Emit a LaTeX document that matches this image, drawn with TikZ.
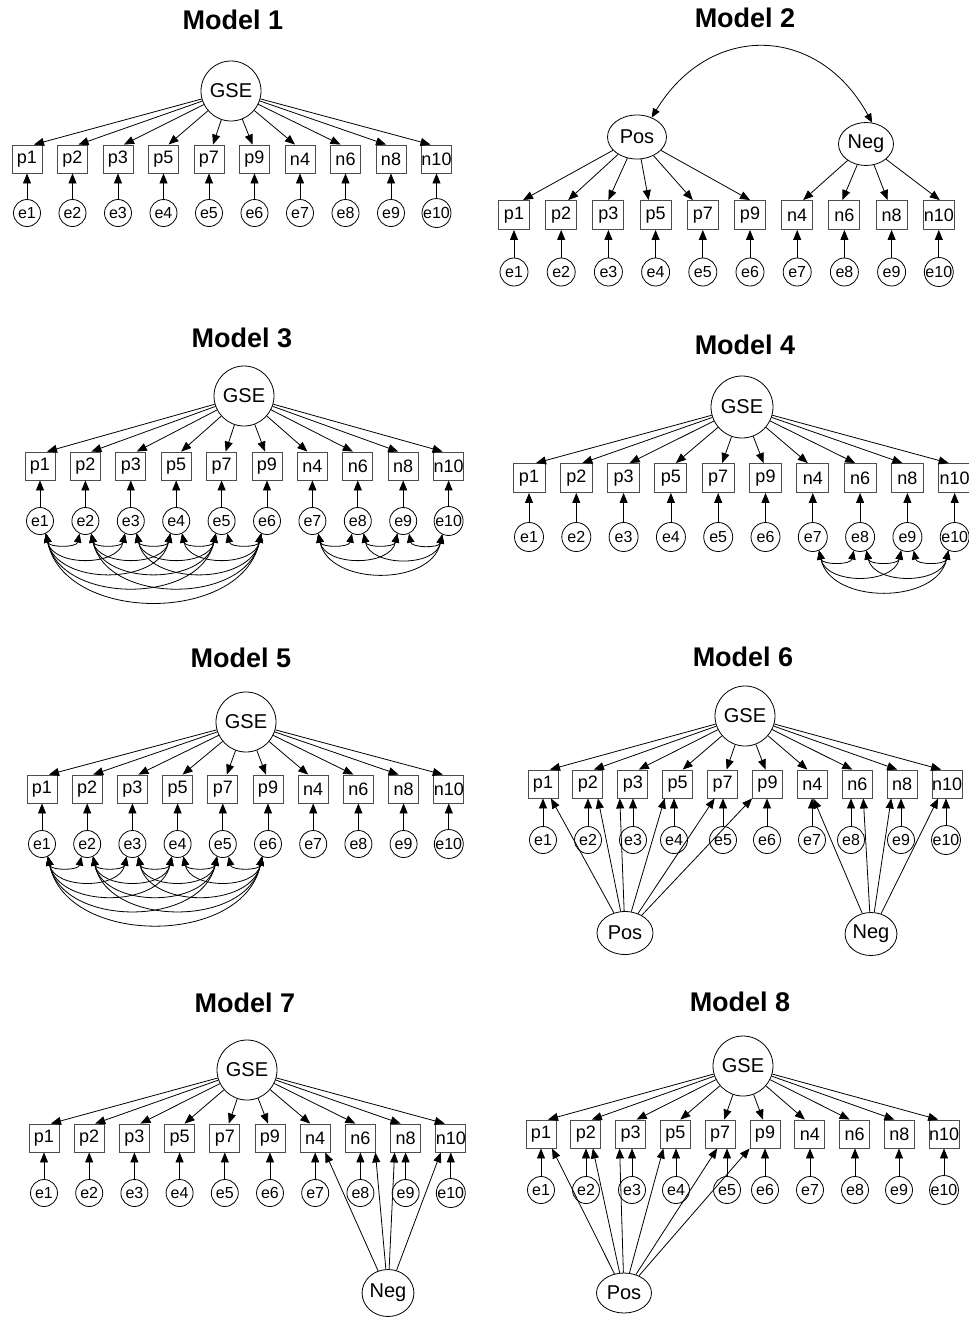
\documentclass[tikz,border=0pt]{standalone}
\usepackage{fontspec}
\setmainfont{Liberation Sans}
\usetikzlibrary{arrows.meta,shapes.geometric}

% item labels in the order they appear in every row
\newcommand{\itemlabel}[1]{\ifcase#1\or p1\or p2\or p3\or p5\or p7\or p9\or n4\or n6\or n8\or n10\fi}

% sizes of indicator boxes and error circles (changed per model)
\def\boxw{30pt}\def\boxh{28pt}\def\errd{27pt}

\tikzset{
  ind/.style={draw=black!70, line width=0.9pt, rectangle, minimum width=\boxw,
    minimum height=\boxh, inner sep=0pt, font=\fontsize{18}{18}\selectfont},
  err/.style={draw, line width=0.8pt, circle, minimum size=\errd, inner sep=0pt,
    font=\fontsize{16}{16}\selectfont},
  lat/.style={draw, line width=0.8pt, circle, minimum size=60pt, inner sep=0pt,
    font=\fontsize{20}{20}\selectfont},
  fac/.style={draw, line width=0.8pt, ellipse, inner sep=0pt,
    font=\fontsize{20}{20}\selectfont},
  ttl/.style={font=\fontsize{27}{27}\selectfont\bfseries},
  arr/.style={line width=0.8pt, -{Triangle[length=10pt,width=8pt]}},
  cov/.style={line width=0.8pt,
    {Triangle[length=9pt,width=7.5pt]}-{Triangle[length=9pt,width=7.5pt]}},
}

% row of indicators with their error terms: prefix, box y, error y, list of boxx/errx
\newcommand{\indrow}[4]{%
  \foreach \bx/\ex [count=\i] in {#4} {
    \node[ind] (#1b\i) at (\bx,#2) {\itemlabel{\i}};
    \node[err] (#1e\i) at (\ex,#3) {e\i};
    \draw[arr] (#1e\i.north) -- (#1e\i.north |- #1b\i.south);
  }%
}

% loadings from the general factor
\newcommand{\gsearrows}[1]{%
  \foreach \dx [count=\i] in {7,6,6,5,4,-2,-5,-5,-5,-6}
    \draw[arr] (#1g) -- ([xshift=\dx pt]#1b\i.north);%
}

% all pairwise error covariances among e#2 ... e#3
\newcommand{\covset}[3]{%
  \foreach \a in {#2,...,#3} {
    \foreach \b in {#2,...,#3} {
      \ifnum\b>\a\relax
        \draw[cov] (#1e\a.-65) to[bend right=78, looseness=1.1] (#1e\b.-115);
      \fi
    }
  }%
}

\begin{document}
\begin{tikzpicture}[x=1pt,y=-1pt]
\path[use as bounding box, fill=white] (0,0) rectangle (969,1318);

% ---------------- Model 1 ----------------
\node[ttl] (t1) at (233,20) {Model 1};
\node[lat] (m1g) at (231,91) {GSE};
\indrow{m1}{159}{213}{27/27,72.5/72.5,118/118,163.5/163.5,209/209,254.5/254.5,300/300,345.5/345.5,391/391,436.5/436.5}
\gsearrows{m1}

% ---------------- Model 2 ----------------
\def\boxw{31pt}\def\boxh{29pt}\def\errd{28pt}
\node[ttl] (t2) at (745,18) {Model 2};
\node[fac, minimum width=59pt, minimum height=44pt] (m2pos) at (637,137) {Pos};
\node[fac, minimum width=55pt, minimum height=43pt] (m2neg) at (866,144) {Neg};
\indrow{m2}{215}{272}{514/514,561.2/561.2,608.4/608.4,655.6/655.6,702.8/702.8,750/750,797.2/797.2,844.4/844.4,891.6/891.6,938.8/938.8}
\foreach \dx [count=\i] in {9,7,0,-7,-10,0}
  \draw[arr] (m2pos) -- ([xshift=\dx pt]m2b\i.north);
\foreach \dx [count=\j from 7] in {6,-2,-4,1}
  \draw[arr] (m2neg) -- ([xshift=\dx pt]m2b\j.north);
\draw[cov] (m2pos.53) to[bend left=60, looseness=1.3] (m2neg.74);
\def\boxw{30pt}\def\boxh{28pt}\def\errd{27pt}

% ---------------- Model 3 ----------------
\node[ttl] (t3) at (242,338) {Model 3};
\node[lat] (m3g) at (244,396) {GSE};
\indrow{m3}{466}{521}{40/40,85.4/85.4,130.8/130.8,176.2/176.2,221.6/221.6,267/267,312.4/312.4,357.8/357.8,403.2/403.2,448.6/448.6}
\gsearrows{m3}
\covset{m3}{1}{6}
\covset{m3}{7}{10}

% ---------------- Model 4 ----------------
\def\boxw{32pt}\def\boxh{29pt}\def\errd{29pt}
\node[ttl] (t4) at (745,345) {Model 4};
\node[lat, minimum size=62pt] (m4g) at (742,407) {GSE};
\indrow{m4}{478}{537}{529/529,576.3/576.3,623.6/623.6,670.9/670.9,718.2/718.2,765.5/765.5,812.8/812.8,860.1/860.1,907.4/907.4,954.7/954.7}
\gsearrows{m4}
\covset{m4}{7}{10}
\def\boxw{30pt}\def\boxh{28pt}\def\errd{27pt}

% ---------------- Model 5 ----------------
\node[ttl] (t5) at (241,658) {Model 5};
\node[lat] (m5g) at (246,722) {GSE};
\indrow{m5}{789}{844}{42/42,87.2/87.2,132.4/132.4,177.6/177.6,222.8/222.8,268/268,313.2/313.2,358.4/358.4,403.6/403.6,448.8/448.8}
\gsearrows{m5}
\covset{m5}{1}{6}

% ---------------- Model 6 ----------------
\node[ttl] (t6) at (743,657) {Model 6};
\node[lat] (m6g) at (745,716) {GSE};
\indrow{m6}{784}{840}{543/543,587.9/588,632.8/633,677.7/674,722.6/723,767.5/767,812.4/812,857.3/851,902.2/901,947.1/946}
\gsearrows{m6}
\node[fac, minimum width=56pt, minimum height=43pt] (m6pos) at (625,933) {Pos};
\node[fac, minimum width=49pt, minimum height=43pt] (m6neg) at (871,934) {Neg};
\foreach \dx [count=\i] in {8,10,-13,-13,-8}
  \draw[arr] (m6pos) -- ([xshift=\dx pt]m6b\i.south);
\draw[arr] (m6pos) -- (m6b6.south west);
\foreach \dx [count=\j from 7] in {1,6,-11,-9}
  \draw[arr] (m6neg) -- ([xshift=\dx pt]m6b\j.south);

% ---------------- Model 7 ----------------
\node[ttl] (t7) at (245,1003) {Model 7};
\node[lat] (m7g) at (247,1070) {GSE};
\indrow{m7}{1138}{1193}{44/44,89.2/89.2,134.4/134.4,179.6/179.6,224.8/224.8,270/270,315.2/315.2,360.4/360.4,405.6/405.6,450.8/450.8}
\gsearrows{m7}
\node[fac, minimum width=50pt, minimum height=47pt] (m7neg) at (388,1293) {Neg};
\foreach \dx [count=\j from 7] in {10,15,-11,-10}
  \draw[arr] (m7neg) -- ([xshift=\dx pt]m7b\j.south);

% ---------------- Model 8 ----------------
\node[ttl] (t8) at (740,1002) {Model 8};
\node[lat] (m8g) at (743,1066) {GSE};
\indrow{m8}{1134}{1190}{541/541,585.8/586,630.6/632,675.4/676,720.2/727,765/765,809.8/810,854.6/855,899.4/899,944.2/944}
\gsearrows{m8}
\node[fac, minimum width=55pt, minimum height=40pt] (m8pos) at (624,1293) {Pos};
\foreach \dx [count=\i] in {11,7,-11,-12,-3}
  \draw[arr] (m8pos) -- ([xshift=\dx pt]m8b\i.south);
\draw[arr] (m8pos) -- (m8b6.south west);
\end{tikzpicture}
\end{document}
